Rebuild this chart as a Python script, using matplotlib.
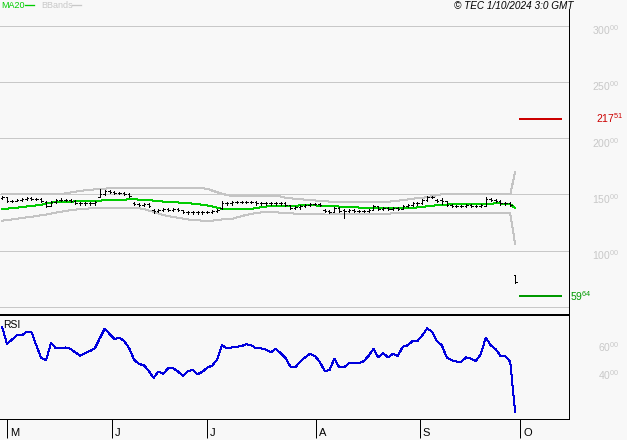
import numpy as np
import matplotlib
matplotlib.use('Agg')
import matplotlib.pyplot as plt
from matplotlib.lines import Line2D

plt.rcParams['font.family'] = ['Liberation Sans', 'DejaVu Sans']
plt.rcParams['mathtext.fontset'] = 'custom'
plt.rcParams['mathtext.rm'] = 'Liberation Sans'
plt.rcParams['mathtext.default'] = 'regular'

# ---------------- data ----------------
opens = [147,147.5,144,144.5,145,146,146.5,146,146,143.5,
         140,143,145.5,145,145,144.5,142.5,142,142,142,
         148,150,153,152,151,151,150.5,142.5,141.5,141,
         141.5,136,135,136,137,136.5,137,136,134.5,134,
         134,134,134.5,134.5,135,138,142.5,142,143,143.5,
         143,143.5,143,142,142.5,142,142.5,142,142.5,140.5,
         138,138.5,140,140.5,141.5,141.5,136,135,134.5,138,
         136.5,135.5,136,135,135.5,135.5,136.5,139.5,137,138,
         137.5,138,137.5,140,140.5,142,142,145,148,145.5,
         145.5,144,141,140,139.5,140,140.5,140,139.5,140,
         146,145,144.5,142,142,78]
highs = [149,148,145.5,146,147,147.5,147.5,147,146.5,144,
         144,146,146.5,146,146,145,143.5,143,143,144,
         155,154,154,153,152,152,151,143,142.5,142.5,
         142,137,137,138,138,138,138,136.5,135.5,135,
         135,135.5,135.5,136,137,144,143.5,144,144.5,144.5,
         144.5,144.5,144,143.5,143.5,143.5,143.5,143.5,143,141,
         139.5,141,141.5,142.5,142.5,142.5,137,136,139,138.5,
         137,137,137,136.5,136.5,137.5,140.5,140,139,139,
         139,139,141,141.5,143,143,146,149,149,146,
         146.5,144.5,141.5,141,141,141.5,141.5,141,141.5,148,
         147,146,145,143,143,78]
lows = [146,143.5,143,144,144.5,145,145,145,143,138.5,
        139.5,142.5,144,144,143.5,141.5,141,141,141,141,
        147.5,149.5,151,150,150,149.5,148,140.5,140,140,
        139,133.5,134,135,135.5,135.5,135,133.5,133,133,
        133,133,133.5,133.5,134,137.5,141,141,142,142,
        142,142,141,141,141,141,141,141,140,137,
        137,137.5,139,139.5,140.5,139.5,134,133.5,134,134,
        129,134.5,134,134,134.5,134.5,136,136,136,136.5,
        136.5,136.5,137,139,139.5,141,141.5,144.5,146.5,143.5,
        141.5,140,139,138.5,138.5,139,139,138.5,138.5,140,
        144,143.5,141,141,139.5,71.5]
closes = [148,144,144.5,145,146,146.5,146,146,144,139.5,
          143,145.5,145,145,144.5,142.5,142,142,142,143,
          150,153,152,151,151,150.5,149,141.5,141,141.5,
          140,135,136,137,136.5,137,136,134.5,134,134,
          134,134.5,134.5,135,136,142.5,142,143,143.5,143,
          143.5,143,142,142.5,142,142.5,142,142.5,141,138,
          138.5,140,140.5,141.5,141.5,140.5,135,134.5,138,135,
          135.5,136,135,135.5,135.5,136.5,139.5,137,138,137.5,
          138,137.5,140,140.5,142,142,145,148,147.5,144.5,
          144,141,140,139.5,140,140.5,140,139.5,140.5,146,
          145,144.5,142,142,140.5,72]
ma20 = [137.0,137.4,137.9,138.3,138.7,139.3,139.8,140.3,140.9,141.9,
        142.8,143.0,143.3,143.5,143.7,143.8,144.0,144.1,144.2,144.4,
        144.5,144.9,145.2,145.3,145.4,145.5,145.6,145.7,145.5,145.2,
        145.0,144.5,144.1,143.7,143.4,143.2,142.9,142.7,142.3,141.9,
        141.4,140.8,140.2,139.4,138.3,137.3,137.1,137.1,137.1,137.1,
        137.1,137.1,138.0,138.7,139.3,139.8,139.8,139.8,139.8,139.8,
        140.0,140.3,140.5,140.7,140.3,140.0,139.8,139.6,139.5,139.3,
        139.2,139.1,138.8,138.4,138.1,137.8,137.7,137.7,137.7,137.7,
        137.7,137.7,137.7,137.7,138.0,138.5,139.0,139.5,140.0,140.4,
        140.8,141.0,141.3,141.5,141.5,141.5,141.5,141.5,141.5,141.5,
        141.8,142.1,142.0,141.8,141.5,137.8]
bb_upper = [150.5,150.5,150.5,150.5,150.5,150.5,150.5,150.5,150.5,150.5,
            150.5,150.5,150.5,151.0,151.8,152.5,153.2,153.8,154.2,154.5,
            154.8,155.2,155.5,155.8,155.8,155.8,155.8,155.8,155.8,155.8,
            155.8,155.8,155.8,155.8,155.8,155.8,155.8,155.8,155.6,155.5,
            155.5,155.5,155.0,153.5,152.0,150.8,149.5,148.8,148.5,148.3,
            148.3,148.3,148.3,148.3,148.3,148.3,148.3,148.3,147.0,146.6,
            146.2,145.8,145.4,145.0,144.7,144.3,144.0,143.7,143.5,143.3,
            143.3,143.3,143.3,143.3,143.3,143.3,143.3,143.3,143.3,143.5,
            144.0,144.5,145.0,145.6,146.2,146.7,147.0,147.6,148.5,149.5,
            150.2,150.4,150.4,150.4,150.4,150.0,150.0,150.0,150.0,150.0,
            150.0,150.0,150.0,150.0,150.0,170.0]
bb_lower = [126.7,127.2,127.8,128.4,129.0,129.6,130.2,130.8,131.5,132.2,
            133.0,133.8,134.6,135.4,136.0,136.5,137.0,137.4,137.6,137.7,
            137.7,137.7,137.7,137.7,137.7,137.7,137.7,137.7,137.7,137.0,
            135.8,134.5,133.0,131.8,130.8,130.0,129.3,128.6,127.8,127.3,
            127.0,126.8,126.7,126.7,127.2,127.8,127.8,128.0,129.5,130.8,
            131.8,132.8,133.5,134.0,134.4,134.4,134.2,133.8,133.5,133.2,
            133.0,132.9,132.9,132.7,132.5,132.3,132.2,132.2,132.3,132.5,
            132.7,133.0,133.0,133.0,133.0,133.0,133.0,133.0,133.0,133.0,
            133.2,133.2,133.2,133.2,133.2,133.2,133.2,133.2,133.2,133.2,
            133.2,133.2,133.2,133.2,133.2,133.2,133.2,133.2,133.2,133.2,
            133.2,133.2,133.2,133.2,133.2,106.0]
rsi = [74,62,65,68,68,70.5,70.5,61,52,50.5,
       62.5,59,59,59.5,58.5,56,53.6,55.5,57,59,
       66,72.8,69,65.4,66.3,64,59,51,47.8,47,
       43,38,42.5,41,44.8,44.8,42.5,39.5,42.5,43.8,
       40.6,42.3,45.3,46.7,51,61,58.9,59.5,60,60.5,
       61.7,61,58.9,58.9,58,56,58.5,55.5,52,46,
       45.5,49.5,52.5,55,53.5,49.5,43,43.4,51.5,45.5,
       45.5,48.3,48.3,48.3,49.8,53.5,58.5,52.5,55.5,52.5,
       55,53.5,60,61,64,64,68,73,70.5,64,
       61,52.5,50.5,49.5,49.5,52.5,51.5,50,55,66.5,
       61,58.3,53.6,53.3,49.4,14]

month_labels = ['M', 'J', 'J', 'A', 'S', 'O']
month_pos = [1.0, 22.5, 41.9, 64.2, 85.5, 106.0]
price_ticks = [100, 150, 200, 250, 300]
price_grid = [50, 100, 150, 200, 250, 300]
rsi_ticks = [60, 40]
high_mark = 217.51
low_mark = 59.64
title_text = '\u00a9 TEC 1/10/2024 3:0 GMT'

# ---------------- figure ----------------
BG = '#f8f8f8'
GRID = '#c8c8c8'
W, H = 627, 440
PX = 0.72  # one pixel in points
fig = plt.figure(figsize=(W / 100, H / 100), dpi=100, facecolor=BG)


def frame(l, t, r, b):
    return [l / W, 1 - b / H, (r - l) / W, (b - t) / H]


ax = fig.add_axes(frame(0, 9, 569, 315))
axr = fig.add_axes(frame(0, 315, 569, 419))
for a in (ax, axr):
    a.set_facecolor(BG)
    a.set_xlim(-0.43, 116.03)
    a.set_yticks([])
    a.spines['left'].set_visible(False)
    a.spines['right'].set_color('black')
    a.spines['right'].set_linewidth(PX)
    a.spines['right'].set_antialiased(False)

idx = np.arange(len(closes))

# main panel
ax.set_ylim(42.8, 315.0)
ax.set_xticks([])
for s in ('top', 'bottom'):
    ax.spines[s].set_visible(False)
for v in price_grid:
    ax.axhline(v, color=GRID, lw=PX, zorder=0, antialiased=False)
ax.plot(idx, bb_upper, color='#c4c4c4', lw=PX, zorder=1, antialiased=False)
ax.plot(idx, bb_lower, color='#c4c4c4', lw=PX, zorder=1, antialiased=False)
ax.plot(idx, ma20, color='#00cc00', lw=PX, zorder=2, antialiased=False)
ax.vlines(idx, lows, highs, color='black', lw=PX, zorder=3, antialiaseds=False)
ax.hlines(opens, idx - 0.3, idx, color='black', lw=PX, zorder=3, antialiaseds=False)
ax.hlines(closes, idx, idx + 0.3, color='black', lw=PX, zorder=3, antialiaseds=False)

ax.hlines(high_mark, 105.8, 114.6, color='#cc0000', lw=2 * PX, antialiaseds=False)
ax.hlines(low_mark, 105.8, 114.6, color='#009900', lw=2 * PX, antialiaseds=False)

for v in price_ticks:
    ax.annotate(f'{v}$^{{00}}$', xy=(1.0879, v), xycoords=('axes fraction', 'data'),
                xytext=(0, -3.2), textcoords='offset points', ha='right', va='center',
                color=GRID, fontsize=7.5, annotation_clip=False)
hi_i, hi_d = f'{high_mark:.2f}'.split('.')
lo_i, lo_d = f'{low_mark:.2f}'.split('.')
ax.annotate(f'{hi_i}$^{{{hi_d}}}$', xy=(1.0949, high_mark), xycoords=('axes fraction', 'data'),
            ha='right', va='center', color='#cc0000', fontsize=7.5, annotation_clip=False)
ax.annotate(f'{lo_i}$^{{{lo_d}}}$', xy=(1.0018, low_mark), xycoords=('axes fraction', 'data'),
            ha='left', va='center', color='#009900', fontsize=7.5, annotation_clip=False)

# RSI panel
axr.set_ylim(9.0, 82.4)
axr.plot(idx, rsi, color='#0000dd', lw=PX, antialiased=False)
axr.spines['top'].set_linewidth(2 * PX)
axr.spines['top'].set_color('black')
axr.spines['top'].set_antialiased(False)
axr.spines['bottom'].set_linewidth(PX)
axr.spines['bottom'].set_color('black')
axr.spines['bottom'].set_antialiased(False)
axr.set_xticks(month_pos)
axr.set_xticklabels([])
axr.tick_params(axis='x', direction='out', length=13.5, width=PX, color='black')
for p, lab in zip(month_pos, month_labels):
    axr.annotate(lab, xy=(p, 0), xycoords=('data', 'axes fraction'),
                 xytext=(2.2, -13.7), textcoords='offset points', ha='left', va='bottom',
                 fontsize=8, color='black', annotation_clip=False)
for v in rsi_ticks:
    axr.annotate(f'{v}$^{{00}}$', xy=(1.0879, v), xycoords=('axes fraction', 'data'),
                 ha='right', va='center', color=GRID, fontsize=7.5, annotation_clip=False)
axr.text(3 / 569, 1 - 5 / 104, 'RSI', transform=axr.transAxes, ha='left', va='top',
         fontsize=7.5, color='black')

# header
fig.text(1 / W, 1 - 1.5 / H, 'MA20', color='#00cc00', ha='left', va='top', fontsize=6.5)
fig.add_artist(Line2D([25 / W, 34 / W], [1 - 5.5 / H] * 2, color='#00cc00', lw=PX * 1.3))
fig.text(41 / W, 1 - 1.5 / H, 'BBands', color='#c8c8c8', ha='left', va='top', fontsize=6.5)
fig.add_artist(Line2D([72 / W, 81 / W], [1 - 5.5 / H] * 2, color='#c8c8c8', lw=PX * 1.3))
fig.text(573 / W, 1 - 1 / H, title_text, color='black', ha='right', va='top',
         fontsize=7.2, style='italic')

fig.savefig('out.png', dpi=100, facecolor=BG)
